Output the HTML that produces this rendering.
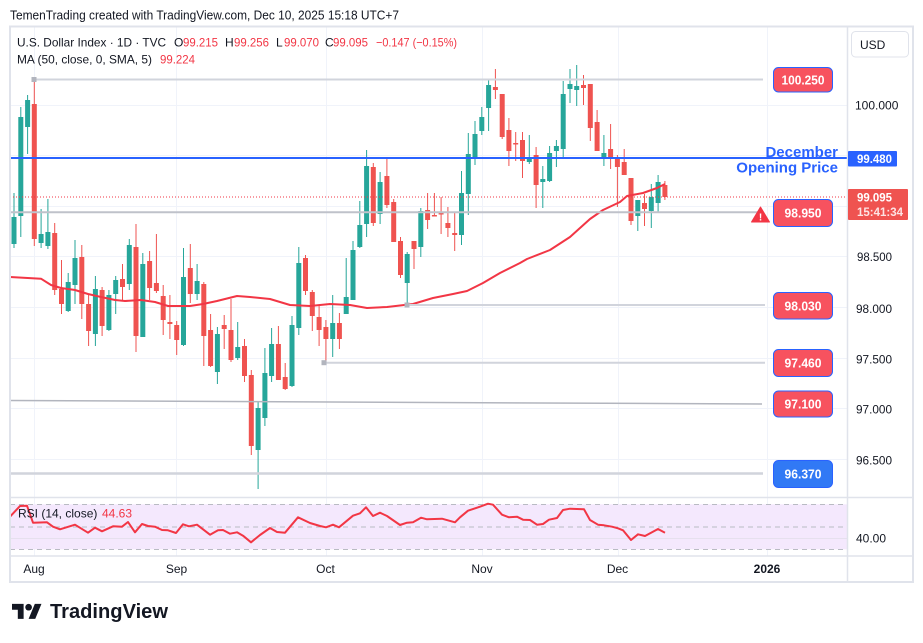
<!DOCTYPE html>
<html><head><meta charset="utf-8"><style>
html,body{margin:0;padding:0;background:#fff;width:923px;height:643px;overflow:hidden}
svg{display:block}
text{font-family:"Liberation Sans",sans-serif}
</style></head><body>
<svg width="923" height="643" viewBox="0 0 923 643" xmlns="http://www.w3.org/2000/svg">
<rect width="923" height="643" fill="#fff"/>
<text x="10" y="19.5" font-size="13" fill="#131722" textLength="389" lengthAdjust="spacingAndGlyphs">TemenTrading created with TradingView.com, Dec 10, 2025 15:18 UTC+7</text>

<!-- grid -->
<g stroke="#f0f3fa" stroke-width="1">
<path d="M34.5 27V556M176.5 27V556M326.5 27V556M482.5 27V556M618.5 27V556M767.5 27V556"/>
<path d="M10 105.5H847M10 155.5H847M10 206.5H847M10 256.5H847M10 307.5H847M10 358.5H847M10 408.5H847M10 459.5H847"/>
</g>

<!-- RSI pane -->
<rect x="10" y="504.3" width="837" height="45" fill="#f4e8fd"/>
<path d="M10 538.5H847" stroke="#e6e0ee" stroke-width="1"/>
<g stroke="#b9bbc3" stroke-width="1" stroke-dasharray="5 4" fill="none">
<path d="M10 504.5H847M10 527H847M10 549.5H847"/>
</g>
<polyline fill="none" stroke="#f23645" stroke-width="2" stroke-linejoin="round" points="10,516.7 20,506 27,505.7 33,522.7 47,522.3 53,526.7 60,529.3 75,524.7 88,532.7 95,527.7 102,531.3 113,526.3 122,526.7 128,522 135,532.3 142,524 148,526 155,526.7 162,530 168,530.3 176,533 183,524.3 189,526.3 197,524.7 210,534.7 218,530.3 223,530 230,533.7 237,532.3 243,535.7 251,542.3 260,535 270,528 277,532 285,532.7 298,517.3 310,523 320,526 326,527.3 333,524.7 339,527.3 353,515.7 360,513.3 366,507.3 373,516 380,512.7 387,516 400,525 407,522.7 413,522.3 421,517.7 427,519.3 442,518.7 455,522.3 460,517.3 468,510.7 480,506.7 488,503.7 493,504.7 502,514.7 509,517.3 517,516.7 523,519.7 530,520 537,524.7 543,524 549,519.7 557,518 563,510 570,508.7 577,509 584,509.3 590,520 598,524.7 604,525.3 612,526.7 618,528.3 623,530.3 631,540 638,534.3 645,536 652,532.3 658,529 665,532.7"/>
<text x="18" y="517.5" font-size="12" fill="#131722">RSI (14, close)</text>
<text x="102" y="517.5" font-size="12" fill="#f23645">44.63</text>

<!-- candles: wicks -->
<path fill="none" stroke="#26a69a" stroke-width="1" d="M14 193V248M20.8 107V237M27.6 95V154M41.1 209V248M47.9 199V249M68.2 273V312M75 240V304M95.4 276V346M108.9 290V331M115.7 276V314M129.3 239V290M142.8 253V337M183.5 248V346M197.1 264V300M217.4 327V384M237.7 322V360M258.1 402V489M264.9 348V426M271.6 328V382M292 316V387M298.8 247V335M332.7 295V357M346.2 258V314M353 241V300M359.8 201V248M366.6 150V237M380.1 172V224M407.2 252V306M420.8 208V257M461.5 171V245M468.3 133V215M475 121V165M481.8 107V135M488.6 80V131M529.3 135V164M542.8 166V208M549.6 146V182M556.4 140V167M563.2 81V157M570 69V103M576.7 65V106M603.9 135V166M637.8 200V231M651.3 184V228M658.1 175V212"/>
<path fill="none" stroke="#ef5350" stroke-width="1" d="M34.3 79V246M54.7 223V295M61.5 260V314M81.8 245V319M88.6 295V346M102.1 287V336M122.5 264V300M136 224V352M149.6 251V300M156.4 234V293M163.2 285V335M169.9 295V339M176.7 321V355M190.3 244V303M203.8 282V366M210.6 314V367M224.2 315V349M231 299V362M244.5 339V382M251.3 370V455M278.4 326V380M285.2 363V390M305.5 255V295M312.3 290V331M319.1 306V346M325.9 320V363M339.4 313V349M373.3 163V226M386.9 159V208M393.7 199V242M400.5 237V278M414 241V269M427.6 193V229M434.4 193V216M441.1 197V234M447.9 207V237M454.7 212V251M495.4 69V99M502.2 94V139M508.9 118V166M515.7 132V161M522.5 132V178M536.1 147V208M583.5 75V105M590.3 84V141M597.1 110V151M610.6 124V169M617.4 155V207M624.2 149V175M631 178V225M644.5 194V226M664.9 181V200"/>
<!-- bodies green -->
<g fill="#26a69a">
<rect x="11.5" y="217" width="5" height="27"/><rect x="18.3" y="117" width="5" height="99"/><rect x="25.1" y="100" width="5" height="27"/><rect x="38.6" y="234" width="5" height="9"/><rect x="45.4" y="232" width="5" height="14"/><rect x="65.7" y="282" width="5" height="29"/><rect x="72.5" y="258" width="5" height="27"/><rect x="92.9" y="289" width="5" height="45"/><rect x="106.4" y="295" width="5" height="35"/><rect x="113.2" y="280" width="5" height="14"/><rect x="126.8" y="245" width="5" height="39"/><rect x="140.3" y="264" width="5" height="73"/><rect x="181" y="277" width="5" height="68"/><rect x="194.6" y="281" width="5" height="13"/><rect x="214.9" y="334" width="5" height="38"/><rect x="235.2" y="347" width="5" height="11"/><rect x="255.6" y="408" width="5" height="42"/><rect x="262.4" y="373" width="5" height="45"/><rect x="269.1" y="344" width="5" height="32"/><rect x="289.5" y="325" width="5" height="61"/><rect x="296.3" y="263" width="5" height="65"/><rect x="330.2" y="323" width="5" height="16"/><rect x="343.7" y="297" width="5" height="17"/><rect x="350.5" y="250" width="5" height="50"/><rect x="357.3" y="225" width="5" height="22"/><rect x="364.1" y="166" width="5" height="58"/><rect x="377.6" y="182" width="5" height="32"/><rect x="404.7" y="254" width="5" height="29"/><rect x="418.3" y="211" width="5" height="36"/><rect x="459" y="193" width="5" height="42"/><rect x="465.8" y="154" width="5" height="40"/><rect x="472.5" y="134" width="5" height="24"/><rect x="479.3" y="117" width="5" height="14"/><rect x="486.1" y="85" width="5" height="23"/><rect x="526.8" y="159" width="5" height="3"/><rect x="540.3" y="179" width="5" height="3"/><rect x="547.1" y="153" width="5" height="28"/><rect x="553.9" y="146" width="5" height="5"/><rect x="560.7" y="94" width="5" height="55"/><rect x="567.5" y="84" width="5" height="5"/><rect x="574.2" y="86" width="5" height="4"/><rect x="601.4" y="153" width="5" height="5"/><rect x="635.3" y="200" width="5" height="16"/><rect x="648.8" y="197" width="5" height="14"/><rect x="655.6" y="182" width="5" height="21"/>
</g>
<!-- bodies red -->
<g fill="#ef5350">
<rect x="31.8" y="104" width="5" height="135"/><rect x="52.2" y="233" width="5" height="57"/><rect x="59" y="289" width="5" height="15"/><rect x="79.3" y="257" width="5" height="47"/><rect x="86.1" y="304" width="5" height="27"/><rect x="99.6" y="290" width="5" height="36"/><rect x="120" y="279" width="5" height="8"/><rect x="133.5" y="247" width="5" height="89"/><rect x="147.1" y="261" width="5" height="27"/><rect x="153.9" y="283" width="5" height="8"/><rect x="160.7" y="296" width="5" height="24"/><rect x="167.4" y="322" width="5" height="2"/><rect x="174.2" y="325" width="5" height="15"/><rect x="187.8" y="268" width="5" height="26"/><rect x="201.3" y="284" width="5" height="52"/><rect x="208.1" y="330" width="5" height="36"/><rect x="221.7" y="325" width="5" height="4"/><rect x="228.5" y="330" width="5" height="30"/><rect x="242" y="346" width="5" height="30"/><rect x="248.8" y="375" width="5" height="71"/><rect x="275.9" y="344" width="5" height="36"/><rect x="282.7" y="377" width="5" height="12"/><rect x="303" y="258" width="5" height="33"/><rect x="309.8" y="292" width="5" height="24"/><rect x="316.6" y="317" width="5" height="13"/><rect x="323.4" y="327" width="5" height="12"/><rect x="336.9" y="323" width="5" height="16"/><rect x="370.8" y="167" width="5" height="56"/><rect x="384.4" y="176" width="5" height="29"/><rect x="391.2" y="202" width="5" height="40"/><rect x="398" y="241" width="5" height="34"/><rect x="411.5" y="241" width="5" height="8"/><rect x="425.1" y="210" width="5" height="10"/><rect x="431.9" y="215" width="5" height="1.5"/><rect x="438.6" y="213" width="5" height="1.5"/><rect x="445.4" y="223" width="5" height="5"/><rect x="452.2" y="233" width="5" height="2"/><rect x="492.9" y="87" width="5" height="3"/><rect x="499.7" y="94" width="5" height="43"/><rect x="506.4" y="130" width="5" height="21"/><rect x="513.2" y="143" width="5" height="1.5"/><rect x="520" y="140" width="5" height="21"/><rect x="533.6" y="155" width="5" height="30"/><rect x="581" y="85" width="5" height="3"/><rect x="587.8" y="84" width="5" height="44"/><rect x="594.6" y="122" width="5" height="29"/><rect x="608.1" y="149" width="5" height="10"/><rect x="614.9" y="158" width="5" height="9"/><rect x="621.7" y="162" width="5" height="13"/><rect x="628.5" y="178" width="5" height="43"/><rect x="642" y="203" width="5" height="6"/><rect x="662.4" y="185" width="5" height="12"/>
</g>

<!-- MA 50 -->
<polyline fill="none" stroke="#f23645" stroke-width="2" stroke-linejoin="round" points="10,277 41,278.7 51,285 61,288 75,290 88,294 101,297 115,300 125,301 141,300 155,302 168,306 190,306 203,304 217,301 237,296 250,297 270,299 280,302 290,305 310,306 330,304 350,305 367,308 387,307 413,304 433,298 453,294 467,291 483,283 500,273 520,263 527,259 550,250 570,237 590,219 603,210 620,202 627,196 643,193 657,188 665,184"/>

<!-- level lines -->
<g fill="none">
<path d="M34 79.5H763" stroke="#d1d4dc" stroke-width="2"/>
<rect x="31.5" y="77" width="5" height="5" fill="#b2b5be"/>
<path d="M10 212.3H762" stroke="#bfc2ca" stroke-width="2"/>
<path d="M407 305H765" stroke="#d1d4dc" stroke-width="2"/>
<rect x="404.5" y="302.5" width="5" height="5" fill="#b2b5be"/>
<path d="M324 362.7H765" stroke="#d1d4dc" stroke-width="2"/>
<rect x="321.5" y="360.2" width="5" height="5" fill="#b2b5be"/>
<path d="M10 400.5L762 404" stroke="#b2b5be" stroke-width="1.5"/>
<path d="M10 473.5H763" stroke="#d1d4dc" stroke-width="2.5"/>
<path d="M10 158H847" stroke="#2962ff" stroke-width="2"/>
<path d="M10 197H847" stroke="#f23645" stroke-width="1" stroke-dasharray="1 2"/>
</g>

<!-- December opening price -->
<text x="838" y="157" font-size="15" font-weight="bold" fill="#2962ff" text-anchor="end">December</text>
<text x="838" y="172.5" font-size="15" font-weight="bold" fill="#2962ff" text-anchor="end">Opening Price</text>

<!-- warning -->
<path d="M760.5 207L769.5 222H751.5Z" fill="#f23645" stroke="#f23645" stroke-width="1" stroke-linejoin="round"/>
<text x="760.5" y="220.5" font-size="10" font-weight="bold" fill="#fff" text-anchor="middle">!</text>

<!-- price tags -->
<g stroke="#2962ff" stroke-width="1">
<rect x="773.5" y="67.5" width="59" height="24.5" rx="5" fill="#f7525f"/>
<rect x="773.5" y="199.5" width="59" height="27" rx="5" fill="#f7525f"/>
<rect x="773.5" y="292.5" width="59" height="26.5" rx="5" fill="#f7525f"/>
<rect x="773.5" y="349.5" width="59" height="27" rx="5" fill="#f7525f"/>
<rect x="773.5" y="391" width="59" height="26" rx="5" fill="#f7525f"/>
<rect x="773.5" y="460.5" width="59" height="27" rx="5" fill="#3179f5"/>
</g>
<g font-size="13" font-weight="bold" fill="#fff" text-anchor="middle">
<text x="803" y="84.5" textLength="43" lengthAdjust="spacingAndGlyphs">100.250</text>
<text x="803" y="217.5" textLength="37" lengthAdjust="spacingAndGlyphs">98.950</text>
<text x="803" y="310.5" textLength="37" lengthAdjust="spacingAndGlyphs">98.030</text>
<text x="803" y="367.5" textLength="37" lengthAdjust="spacingAndGlyphs">97.460</text>
<text x="803" y="408.5" textLength="37" lengthAdjust="spacingAndGlyphs">97.100</text>
<text x="803" y="478.5" textLength="37" lengthAdjust="spacingAndGlyphs">96.370</text>
</g>

<!-- frame & separators -->
<g fill="none" stroke="#e0e3eb">
<rect x="10" y="26.5" width="903" height="555.5" stroke-width="2"/>
<path d="M847.5 27V582" stroke-width="1.5"/>
<path d="M10 497.5H913" stroke-width="1.5"/>
<path d="M10 556H913" stroke-width="1.5"/>
</g>

<!-- price axis -->
<rect x="851.5" y="31.5" width="57" height="25.5" rx="4" fill="#fff" stroke="#e0e3eb"/>
<text x="860" y="49" font-size="12" fill="#131722">USD</text>
<g font-size="12" fill="#131722">
<text x="855" y="109.5" font-size="12">100.000</text>
<text x="857" y="261" textLength="35" lengthAdjust="spacingAndGlyphs">98.500</text>
<text x="856" y="313" textLength="36" lengthAdjust="spacingAndGlyphs">98.000</text>
<text x="856" y="363.5" textLength="36" lengthAdjust="spacingAndGlyphs">97.500</text>
<text x="856" y="413.5" textLength="36" lengthAdjust="spacingAndGlyphs">97.000</text>
<text x="856" y="464.5" textLength="36" lengthAdjust="spacingAndGlyphs">96.500</text>
<text x="856" y="542.5" textLength="30" lengthAdjust="spacingAndGlyphs">40.00</text>
</g>
<rect x="848" y="151" width="49" height="15.5" rx="1" fill="#2962ff"/>
<text x="857" y="163" font-size="12" font-weight="bold" fill="#fff" textLength="35" lengthAdjust="spacingAndGlyphs">99.480</text>
<rect x="848" y="189" width="60" height="31" rx="1" fill="#ef5350"/>
<text x="857" y="201.5" font-size="12" font-weight="bold" fill="#fff" textLength="35" lengthAdjust="spacingAndGlyphs">99.095</text>
<text x="857" y="216" font-size="12" font-weight="bold" fill="#fde3e3" textLength="46" lengthAdjust="spacingAndGlyphs">15:41:34</text>

<!-- time axis -->
<g font-size="12" fill="#131722" text-anchor="middle">
<text x="34" y="573">Aug</text>
<text x="176.5" y="573">Sep</text>
<text x="325.5" y="573">Oct</text>
<text x="482" y="573">Nov</text>
<text x="617.5" y="573">Dec</text>
<text x="767" y="573" font-weight="bold">2026</text>
</g>

<!-- legend -->
<g font-size="12">
<text x="17" y="46.5" fill="#131722" textLength="149" lengthAdjust="spacingAndGlyphs">U.S. Dollar Index · 1D · TVC</text>
<text x="174" y="46.5" fill="#131722">O</text><text x="183" y="46.5" fill="#f23645" textLength="35" lengthAdjust="spacingAndGlyphs">99.215</text>
<text x="225" y="46.5" fill="#131722">H</text><text x="234" y="46.5" fill="#f23645" textLength="35" lengthAdjust="spacingAndGlyphs">99.256</text>
<text x="276" y="46.5" fill="#131722">L</text><text x="284" y="46.5" fill="#f23645" textLength="35" lengthAdjust="spacingAndGlyphs">99.070</text>
<text x="325" y="46.5" fill="#131722">C</text><text x="333" y="46.5" fill="#f23645" textLength="35" lengthAdjust="spacingAndGlyphs">99.095</text>
<text x="376" y="46.5" fill="#f23645" textLength="81" lengthAdjust="spacingAndGlyphs">−0.147 (−0.15%)</text>
<text x="17" y="63.5" fill="#131722" textLength="135" lengthAdjust="spacingAndGlyphs">MA (50, close, 0, SMA, 5)</text>
<text x="160" y="63.5" fill="#f23645" textLength="35" lengthAdjust="spacingAndGlyphs">99.224</text>
</g>

<!-- logo -->
<g transform="translate(12,600.6) scale(0.83)" fill="#131722">
<path d="M14 22H7V11H0V4h14v18zM28 22h-8l7.5-18h8L28 22z"/>
<circle cx="20" cy="8" r="4"/>
</g>
<text x="50" y="618" font-size="20" font-weight="bold" fill="#131722" textLength="118" lengthAdjust="spacingAndGlyphs">TradingView</text>
</svg>
</body></html>
